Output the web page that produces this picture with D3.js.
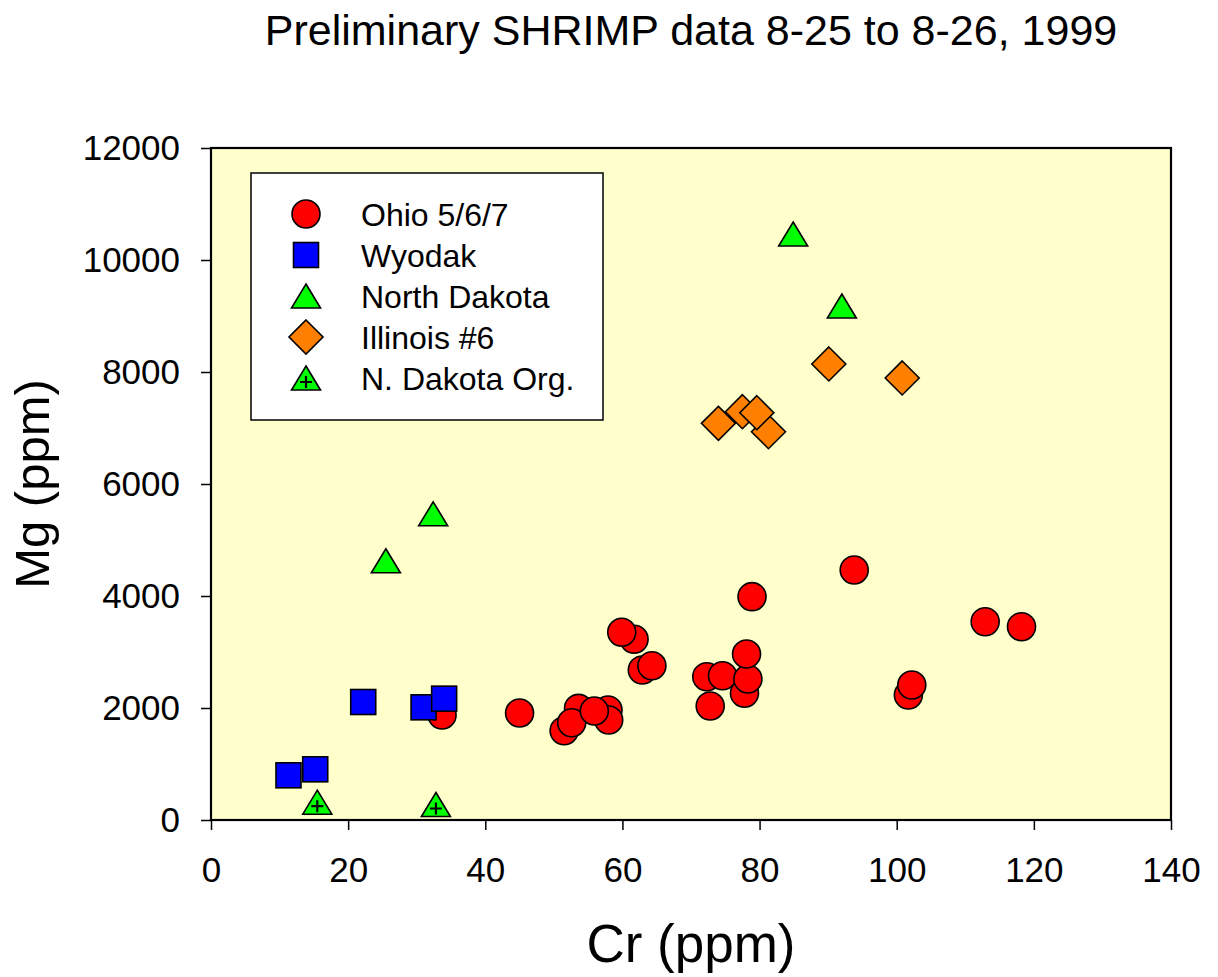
<!DOCTYPE html>
<html lang="en">
  <head>
    <meta charset="UTF-8" />
    <title>Preliminary SHRIMP data</title>
    <script src="https://d3js.org/d3.v7.min.js"></script>
    <style>
      body {
        margin: 0;
        background: #fff;
        font-family: "Liberation Sans", Arial, sans-serif;
      }
      .tick text {
        font-family: "Liberation Sans", Arial, sans-serif;
        font-size: 35px;
        fill: #000;
      }
    </style>
  </head>
  <body>
    <div id="chart"></div>
    <script>
      // values
      const ohioCr = [33.7, 45.0, 53.6, 51.5, 52.6, 57.9, 58.0, 55.9, 61.7, 59.9, 62.9, 64.3, 72.3, 74.6, 72.8, 77.8, 78.3, 78.1, 78.9, 93.8, 101.7, 102.2, 112.9, 118.2];
      const ohioMg = [1875, 1911, 1994, 1595, 1737, 1964, 1786, 1946, 3227, 3352, 2679, 2755, 2559, 2577, 2036, 2263, 2518, 2964, 3988, 4464, 2232, 2411, 3541, 3452];
      const wyodakCr = [11.3, 15.2, 22.2, 31.0, 34.0];
      const wyodakMg = [798, 905, 2107, 2012, 2167];
      const ndCr = [25.5, 32.4, 84.9, 92.0];
      const ndMg = [4629, 5468, 10464, 9179];
      const illCr = [74.0, 77.5, 81.3, 79.6, 90.1, 100.8];
      const illMg = [7083, 7291, 6934, 7273, 8143, 7893];
      const ndOrgCr = [15.5, 32.8];
      const ndOrgMg = [318, 277];

      const seriesNames = ["Ohio 5/6/7", "Wyodak", "North Dakota", "Illinois #6", "N. Dakota Org."];
      const xTicks = [0, 20, 40, 60, 80, 100, 120, 140];
      const yTicks = [0, 2000, 4000, 6000, 8000, 10000, 12000];

      const width = 1218;
      const height = 977;
      const margin = { left: 211, right: 47, top: 148, bottom: 157 };

      const svg = d3
        .select("#chart")
        .append("svg")
        .attr("width", width)
        .attr("height", height);

      const x = d3.scaleLinear().domain([0, 140]).range([margin.left, width - margin.right]);
      const y = d3.scaleLinear().domain([0, 12000]).range([height - margin.bottom, margin.top]);

      // plot background
      svg
        .append("rect")
        .attr("x", x(0))
        .attr("y", y(12000))
        .attr("width", x(140) - x(0))
        .attr("height", y(0) - y(12000))
        .attr("fill", "#ffffcc");

      // marker shapes
      const shapes = {
        circle: (g) => g.append("circle").attr("r", 14),
        square: (g) => g.append("rect").attr("x", -12.5).attr("y", -12.5).attr("width", 25).attr("height", 25),
        triangle: (g) => g.append("path").attr("d", "M0,-12L14.5,12L-14.5,12Z"),
        diamond: (g) => g.append("path").attr("d", "M0,-17L17,0L0,17L-17,0Z"),
        trianglePlus: (g) => {
          g.append("path").attr("d", "M0,-12L14.5,12L-14.5,12Z");
          g.append("path")
            .attr("d", "M-6,4H6M0,-2V10")
            .attr("fill", "none")
            .attr("stroke-width", 2.2);
        },
      };

      const series = [
        { name: seriesNames[0], xs: ohioCr, ys: ohioMg, shape: "circle", color: "#ff0000" },
        { name: seriesNames[1], xs: wyodakCr, ys: wyodakMg, shape: "square", color: "#0000ff" },
        { name: seriesNames[2], xs: ndCr, ys: ndMg, shape: "triangle", color: "#00ff00" },
        { name: seriesNames[3], xs: illCr, ys: illMg, shape: "diamond", color: "#ff8000" },
        { name: seriesNames[4], xs: ndOrgCr, ys: ndOrgMg, shape: "trianglePlus", color: "#00ff00" },
      ];

      function drawMarker(parent, s, cx, cy) {
        const g = parent
          .append("g")
          .attr("transform", `translate(${cx},${cy})`)
          .attr("fill", s.color)
          .attr("stroke", "#000")
          .attr("stroke-width", 1.6);
        shapes[s.shape](g);
      }

      // points
      const pts = svg.append("g");
      series.forEach((s) => {
        s.xs.forEach((v, i) => drawMarker(pts, s, x(v), y(s.ys[i])));
      });

      // axes
      const xAxis = svg
        .append("g")
        .attr("transform", `translate(0,${y(0)})`)
        .call(d3.axisBottom(x).tickValues(xTicks).tickFormat(d3.format("d")).tickSize(10).tickPadding(27).tickSizeOuter(0));
      const yAxis = svg
        .append("g")
        .attr("transform", `translate(${x(0)},0)`)
        .call(d3.axisLeft(y).tickValues(yTicks).tickFormat(d3.format("d")).tickSize(10).tickPadding(21).tickSizeOuter(0));
      [xAxis, yAxis].forEach((a) => {
        a.select(".domain").remove();
        a.selectAll(".tick line").attr("stroke", "#000").attr("stroke-width", 1.5);
      });

      // frame
      svg
        .append("rect")
        .attr("x", x(0))
        .attr("y", y(12000))
        .attr("width", x(140) - x(0))
        .attr("height", y(0) - y(12000))
        .attr("fill", "none")
        .attr("stroke", "#000")
        .attr("stroke-width", 2.2);

      // legend
      const legend = svg.append("g");
      legend
        .append("rect")
        .attr("x", 251)
        .attr("y", 173)
        .attr("width", 352)
        .attr("height", 247)
        .attr("fill", "#fff")
        .attr("stroke", "#000")
        .attr("stroke-width", 1.5);
      series.forEach((s, i) => {
        const cy = 214 + i * 41;
        drawMarker(legend, s, 306, cy);
        legend
          .append("text")
          .attr("x", 361)
          .attr("y", cy + 12)
          .attr("font-size", 32)
          .text(s.name);
      });

      // titles
      svg
        .append("text")
        .attr("x", (x(0) + x(140)) / 2)
        .attr("y", 45)
        .attr("text-anchor", "middle")
        .attr("font-size", 43)
        .text("Preliminary SHRIMP data 8-25 to 8-26, 1999");

      svg
        .append("text")
        .attr("x", (x(0) + x(140)) / 2)
        .attr("y", 962)
        .attr("text-anchor", "middle")
        .attr("font-size", 53)
        .text("Cr (ppm)");

      svg
        .append("text")
        .attr("transform", `translate(49,${(y(0) + y(12000)) / 2}) rotate(-90)`)
        .attr("text-anchor", "middle")
        .attr("font-size", 49)
        .text("Mg (ppm)");
    </script>
  </body>
</html>
